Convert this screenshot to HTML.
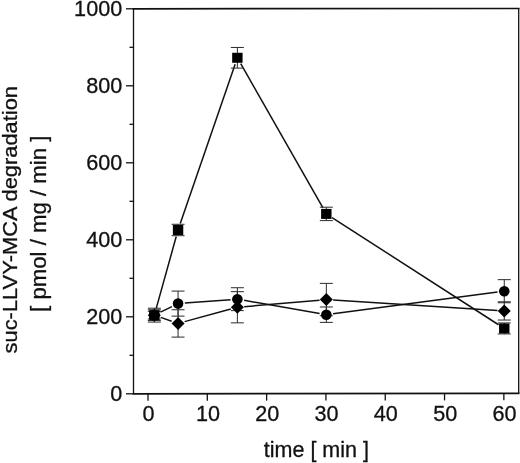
<!DOCTYPE html>
<html><head><meta charset="utf-8"><title>suc-LLVY-MCA degradation</title>
<style>
html,body{margin:0;padding:0;background:#fff;}
svg{display:block;}
text{font-family:"Liberation Sans",Arial,sans-serif;fill:#111;}
</style></head><body>
<svg width="520" height="463" viewBox="0 0 520 463">
<rect x="0" y="0" width="520" height="463" fill="#fff"/>
<g fill="none" stroke="#111" stroke-width="1.3" stroke-linecap="butt">
<path d="M133.5 8.8L518.7 8.5M518.7 393.3L133.5 393.8" stroke-width="1.7" stroke-linecap="square"/>
<path d="M518.7 8.5L518.7 393.3M133.5 393.8L133.5 8.8" stroke-width="1.3"/>
<line x1="126.0" y1="393.80" x2="133.5" y2="393.80"/>
<line x1="129.5" y1="355.30" x2="133.5" y2="355.30"/>
<line x1="126.0" y1="316.80" x2="133.5" y2="316.80"/>
<line x1="129.5" y1="278.30" x2="133.5" y2="278.30"/>
<line x1="126.0" y1="239.80" x2="133.5" y2="239.80"/>
<line x1="129.5" y1="201.30" x2="133.5" y2="201.30"/>
<line x1="126.0" y1="162.80" x2="133.5" y2="162.80"/>
<line x1="129.5" y1="124.30" x2="133.5" y2="124.30"/>
<line x1="126.0" y1="85.80" x2="133.5" y2="85.80"/>
<line x1="129.5" y1="47.30" x2="133.5" y2="47.30"/>
<line x1="126.0" y1="8.80" x2="133.5" y2="8.80"/>
<line x1="148.00" y1="393.78" x2="148.00" y2="400.78"/>
<line x1="207.31" y1="393.70" x2="207.31" y2="400.70"/>
<line x1="266.62" y1="393.63" x2="266.62" y2="400.63"/>
<line x1="325.93" y1="393.55" x2="325.93" y2="400.55"/>
<line x1="385.24" y1="393.47" x2="385.24" y2="400.47"/>
<line x1="444.55" y1="393.40" x2="444.55" y2="400.40"/>
<line x1="503.86" y1="393.32" x2="503.86" y2="400.32"/>
</g>
<text transform="translate(122.20 400.60) scale(1.02 1)" font-size="21.2" text-anchor="end" stroke="#111" stroke-width="0.3">0</text>
<text transform="translate(122.20 323.60) scale(1.02 1)" font-size="21.2" text-anchor="end" stroke="#111" stroke-width="0.3">200</text>
<text transform="translate(122.20 246.60) scale(1.02 1)" font-size="21.2" text-anchor="end" stroke="#111" stroke-width="0.3">400</text>
<text transform="translate(122.20 169.60) scale(1.02 1)" font-size="21.2" text-anchor="end" stroke="#111" stroke-width="0.3">600</text>
<text transform="translate(122.20 92.60) scale(1.02 1)" font-size="21.2" text-anchor="end" stroke="#111" stroke-width="0.3">800</text>
<text transform="translate(122.20 15.60) scale(1.02 1)" font-size="21.2" text-anchor="end" stroke="#111" stroke-width="0.3">1000</text>
<text transform="translate(148.60 421.40) scale(1.02 1)" font-size="21.2" text-anchor="middle" stroke="#111" stroke-width="0.3">0</text>
<text transform="translate(207.91 421.40) scale(1.02 1)" font-size="21.2" text-anchor="middle" stroke="#111" stroke-width="0.3">10</text>
<text transform="translate(267.22 421.40) scale(1.02 1)" font-size="21.2" text-anchor="middle" stroke="#111" stroke-width="0.3">20</text>
<text transform="translate(326.53 421.40) scale(1.02 1)" font-size="21.2" text-anchor="middle" stroke="#111" stroke-width="0.3">30</text>
<text transform="translate(385.84 421.40) scale(1.02 1)" font-size="21.2" text-anchor="middle" stroke="#111" stroke-width="0.3">40</text>
<text transform="translate(445.15 421.40) scale(1.02 1)" font-size="21.2" text-anchor="middle" stroke="#111" stroke-width="0.3">50</text>
<text transform="translate(504.46 421.40) scale(1.02 1)" font-size="21.2" text-anchor="middle" stroke="#111" stroke-width="0.3">60</text>
<text transform="translate(316.40 456.90) scale(1.015 1)" font-size="21.2" text-anchor="middle" stroke="#111" stroke-width="0.3">time [ min ]</text>
<text transform="translate(16.90 219.70) rotate(-90) scale(1.032 0.97)" font-size="21.2" text-anchor="middle" stroke="#111" stroke-width="0.3">suc-LLVY-MCA degradation</text>
<text transform="translate(46.00 223.80) rotate(-90) scale(1.047 1.0)" font-size="21.2" text-anchor="middle" stroke="#111" stroke-width="0.3">[ pmol / mg / min ]</text>
<g stroke="#111" stroke-width="1.5" fill="none">
<line x1="156.16" y1="308.60" x2="176.23" y2="236.54"/>
<line x1="180.27" y1="223.56" x2="235.15" y2="64.21"/>
<line x1="240.73" y1="63.69" x2="322.96" y2="207.99"/>
<line x1="332.05" y1="217.58" x2="498.54" y2="324.75"/>
<line x1="160.44" y1="312.18" x2="171.94" y2="306.58"/>
<line x1="184.84" y1="303.10" x2="230.58" y2="299.68"/>
<line x1="244.06" y1="300.34" x2="319.63" y2="313.52"/>
<line x1="333.07" y1="313.80" x2="497.52" y2="292.10"/>
<line x1="160.75" y1="317.39" x2="171.63" y2="321.19"/>
<line x1="184.62" y1="321.64" x2="230.80" y2="309.05"/>
<line x1="244.14" y1="306.67" x2="319.56" y2="300.15"/>
<line x1="333.12" y1="299.99" x2="497.47" y2="310.48"/>
</g>
<g stroke="#2a2a2a" stroke-width="1" fill="none">
<path d="M154.33 311.30V319.00M147.83 311.30h13M147.83 319.00h13"/>
<path d="M178.06 224.29V235.69M171.56 224.29h13M171.56 235.69h13"/>
<path d="M237.37 47.46V68.10M230.87 47.46h13M230.87 68.10h13"/>
<path d="M326.33 207.20V220.60M319.83 207.20h13M319.83 220.60h13"/>
<path d="M504.26 322.93V333.94M497.76 322.93h13M497.76 333.94h13"/>
<path d="M154.33 308.22V322.08M147.83 308.22h13M147.83 322.08h13"/>
<path d="M178.06 291.09V316.11M171.56 291.09h13M171.56 316.11h13"/>
<path d="M237.37 287.74V310.61M230.87 287.74h13M230.87 310.61h13"/>
<path d="M326.33 306.99V322.39M319.83 306.99h13M319.83 322.39h13"/>
<path d="M504.26 279.66V302.76M497.76 279.66h13M497.76 302.76h13"/>
<path d="M154.33 309.76V320.54M147.83 309.76h13M147.83 320.54h13"/>
<path d="M178.06 309.76V337.10M171.56 309.76h13M171.56 337.10h13"/>
<path d="M237.37 291.67V322.85M230.87 291.67h13M230.87 322.85h13"/>
<path d="M326.33 283.39V315.73M319.83 283.39h13M319.83 315.73h13"/>
<path d="M504.26 301.79V320.04M497.76 301.79h13M497.76 320.04h13"/>
</g>
<g fill="#000" stroke="none">
<rect x="149.13" y="310.15" width="10.4" height="10"/>
<rect x="172.86" y="224.99" width="10.4" height="10"/>
<rect x="232.17" y="52.78" width="10.4" height="10"/>
<rect x="321.13" y="208.90" width="10.4" height="10"/>
<rect x="499.06" y="323.44" width="10.4" height="10"/>
<circle cx="154.33" cy="315.15" r="5.3"/>
<circle cx="178.06" cy="303.60" r="5.3"/>
<circle cx="237.37" cy="299.18" r="5.3"/>
<circle cx="326.33" cy="314.69" r="5.3"/>
<circle cx="504.26" cy="291.21" r="5.3"/>
<path d="M154.33 308.65L160.83 315.15L154.33 321.65L147.83 315.15Z"/>
<path d="M178.06 316.93L184.56 323.43L178.06 329.93L171.56 323.43Z"/>
<path d="M237.37 300.76L243.87 307.26L237.37 313.76L230.87 307.26Z"/>
<path d="M326.33 293.06L332.83 299.56L326.33 306.06L319.83 299.56Z"/>
<path d="M504.26 304.42L510.76 310.92L504.26 317.42L497.76 310.92Z"/>
</g>
</svg></body></html>
